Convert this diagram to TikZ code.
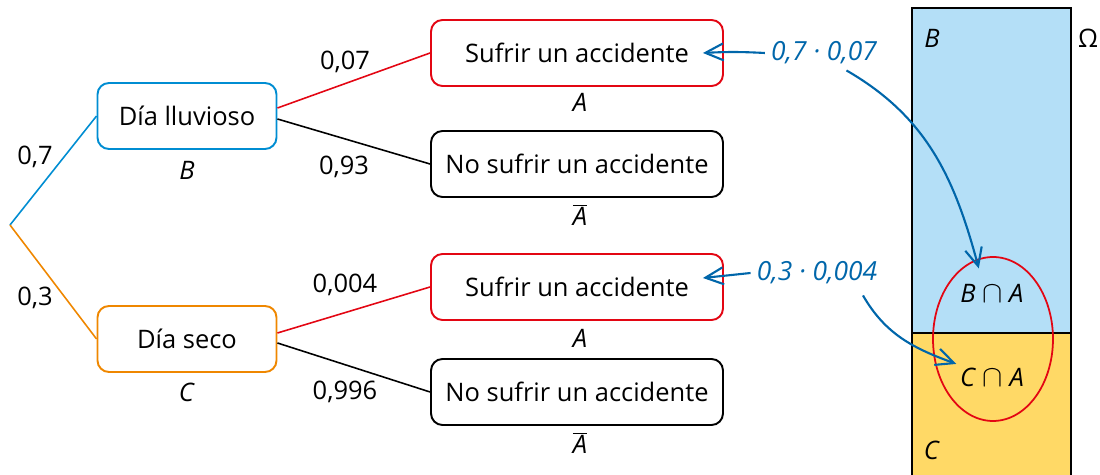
\documentclass[tikz,border=0pt]{standalone}
\usepackage{fontspec}
\setmainfont{Open Sans}
\usetikzlibrary{arrows.meta,shapes.geometric}

\definecolor{lluvia}{RGB}{0,141,210}
\definecolor{seco}{RGB}{239,135,0}
\definecolor{rojo}{RGB}{227,6,19}
\definecolor{flecha}{RGB}{0,102,170}
\definecolor{cielo}{RGB}{180,223,247}
\definecolor{sol}{RGB}{255,217,102}

\newcommand{\inter}{{\fontsize{17}{17}\selectfont$\cap$}}

\tikzset{
  caja/.style={draw, rounded corners=6.5pt, line width=1.1pt, minimum height=1.32cm},
  dia/.style={caja, minimum width=3.58cm},
  suceso/.style={caja, minimum width=5.84cm},
  rama/.style={line width=0.9pt},
  prod/.style={text=flecha, font=\fontsize{15}{18}\selectfont\itshape},
  flechaazul/.style={flecha, line width=1.2pt, -{Straight Barb[length=3.6mm,width=3.4mm]}},
}

\begin{document}
\begin{tikzpicture}[x=0.02cm, y=-0.02cm, font=\fontsize{14.5}{17}\selectfont]
  \useasboundingbox (0,0) rectangle (1100,475);

  % ------ espacio muestral Omega ------
  \fill[cielo] (912,8) rectangle (1071,333);
  \fill[sol] (912,333) rectangle (1071,475);
  \draw[line width=0.8pt] (912,475) -- (912,8) -- (1071,8) -- (1071,475);
  \draw[line width=0.8pt] (912,333) -- (1071,333);
  \node (omega) at (1088,38) {Ω};
  \node (rB) at (932,38) {\textit{B}};
  \node (rC) at (932,450) {\textit{C}};
  \node[ellipse, draw=rojo, line width=1pt, minimum width=2.4cm, minimum height=3.28cm] (elip) at (993,339) {};
  \node (ba) at (992,293) {\textit{B} \inter{} \textit{A}};
  \node (ca) at (992,377) {\textit{C} \inter{} \textit{A}};

  % ------ arbol ------
  \coordinate (raiz) at (10,225);
  \node[dia, draw=lluvia] (ll) at (187,116) {Día lluvioso};
  \node (B) at (187,170) {\textit{B}};
  \node[dia, draw=seco] (se) at (187,339) {Día seco};
  \node (C) at (187,392) {\textit{C}};

  \node[suceso, draw=rojo] (a1) at (577,53) {Sufrir un accidente};
  \node (A1) at (580,102) {\textit{A}};
  \node[suceso] (n1) at (577,164) {No sufrir un accidente};
  \node (N1) at (580,215) {$\overline{\hbox{\textit{A}}}$};
  \node[suceso, draw=rojo] (a2) at (577,287) {Sufrir un accidente};
  \node (A2) at (580,338) {\textit{A}};
  \node[suceso] (n2) at (577,392) {No sufrir un accidente};
  \node (N2) at (580,443) {$\overline{\hbox{\textit{A}}}$};

  \draw[rama, lluvia] (raiz) -- (ll.west);
  \draw[rama, seco] (raiz) -- (se.west);
  \draw[rama, rojo] ([yshift=0.16cm]ll.east) -- (a1.west);
  \draw[rama] ([yshift=-0.06cm]ll.east) -- (n1.west);
  \draw[rama, rojo] ([yshift=0.12cm]se.east) -- (a2.west);
  \draw[rama] ([yshift=-0.08cm]se.east) -- (n2.west);

  \node (p07) at (35,157) {0,7};
  \node (p03) at (35,298) {0,3};
  \node (p007) at (345,62) {0,07};
  \node (p093) at (344,167) {0,93};
  \node (p0004) at (345,285) {0,004};
  \node (p0996) at (345,392) {0,996};

  % ------ productos ------
  \node[prod] (m1) at (824,53) {0,7 · 0,07};
  \node[prod] (m2) at (817,273) {0,3 · 0,004};
  \draw[flechaazul] (m1.west) to[bend right=3] ([xshift=-0.42cm]a1.east);
  \draw[flechaazul] (m2.west) -- ([xshift=-0.42cm,yshift=0.18cm]a2.east);
  \draw[flechaazul] ([xshift=0.45cm]m1.south) to[out=-30, in=105] ([yshift=-0.2cm]elip.100);
  \draw[flechaazul] ([xshift=0.92cm,yshift=-0.1cm]m2.south) to[out=-60, in=160] ([xshift=0.05cm,yshift=-0.05cm]ca.north west);
\end{tikzpicture}
\end{document}
